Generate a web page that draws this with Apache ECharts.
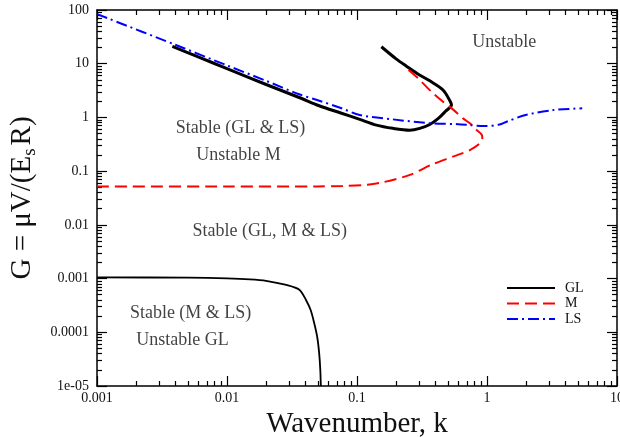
<!DOCTYPE html>
<html>
<head>
<meta charset="utf-8">
<script src="https://cdn.jsdelivr.net/npm/echarts@6/dist/echarts.min.js"></script>
<style>
  html, body { margin: 0; padding: 0; background: #fff; }
  #chart { width: 620px; height: 437px; }
</style>
</head>
<body>
<div id="chart"></div>
<script>
// tick labels
var xTickLabels = ['0.001', '0.01', '0.1', '1', '10'];
var xTickExp = [-3, -2, -1, 0, 1];
var yTickLabels = ['1e-05', '0.0001', '0.001', '0.01', '0.1', '1', '10', '100'];
var yTickExp = [-5, -4, -3, -2, -1, 0, 1, 2];
var minorMult = [2, 3, 4, 5, 6, 7, 8, 9];

// GL, upper branch (k, G)
var glUpperK = [0.0038, 0.006, 0.01, 0.02, 0.0359, 0.0512, 0.075, 0.105, 0.141, 0.189, 0.255, 0.304, 0.363, 0.42, 0.48, 0.533, 0.523, 0.459, 0.363, 0.29, 0.24, 0.2, 0.154];
var glUpperG = [21, 13.4, 8.1, 4.1, 2.35, 1.65, 1.21, 0.92, 0.72, 0.627, 0.58, 0.627, 0.74, 0.95, 1.3, 1.7, 1.96, 3.24, 4.8, 6.6, 9.0, 12.3, 20.7];
// GL, lower branch
var glLowerK = [0.001, 0.005, 0.01, 0.015, 0.02, 0.0286, 0.036, 0.0405, 0.044, 0.0468, 0.0495, 0.0512, 0.0522, 0.0527];
var glLowerG = [0.00105, 0.00104, 0.00101, 0.00097, 0.00091, 0.00076, 0.00062, 0.0004, 0.00026, 0.00015, 0.00008, 0.00004, 0.00002, 0.00001];
// M
var mK = [0.001, 0.01, 0.05, 0.078, 0.12, 0.158, 0.255, 0.383, 0.56, 0.738, 0.88, 0.92, 0.91, 0.82, 0.738, 0.655, 0.533, 0.459, 0.374, 0.295, 0.24];
var mG = [0.052, 0.052, 0.052, 0.053, 0.056, 0.062, 0.085, 0.135, 0.19, 0.247, 0.33, 0.42, 0.48, 0.6, 0.776, 0.96, 1.49, 1.96, 3.0, 5.35, 8.2];
// LS
var lsK = [0.001, 0.004, 0.01, 0.02, 0.0359, 0.0512, 0.075, 0.105, 0.189, 0.363, 0.6, 0.74, 0.95, 1.25, 1.41, 1.98, 3.23, 5.4];
var lsG = [84, 22.5, 9.3, 4.8, 2.7, 2.05, 1.5, 1.11, 0.92, 0.78, 0.75, 0.72, 0.69, 0.74, 0.83, 1.11, 1.37, 1.48];

// region annotations
var noteText = ['Unstable', 'Stable (GL & LS)', 'Unstable M', 'Stable (GL, M & LS)', 'Stable (M & LS)', 'Unstable GL'];
var noteK = [1.36, 0.0127, 0.01225, 0.0213, 0.00525, 0.00455];
var noteG = [24.6, 0.627, 0.2, 0.00776, 0.000225, 0.0000716];

function pairs(xs, ys) {
    return xs.map(function (x, i) { return [x, ys[i]]; });
}
function minorTicks(exps) {
    var out = [];
    for (var i = 0; i < exps.length - 1; i++) {
        minorMult.forEach(function (m) { out.push(exps[i] + Math.log10(m)); });
    }
    return out;
}
function labelFor(exps, labels) {
    return function (v) {
        var i = exps.indexOf(Math.round(Math.log10(v)));
        return i < 0 ? '' : labels[i];
    };
}

var serif = 'Liberation Serif';
var black = '#000';

function majorAxis(kind, pos, min, max, labels, exps, show) {
    return {
        type: 'log', logBase: 10, position: pos, min: min, max: max,
        axisLine: { show: true, onZero: false, lineStyle: { color: black, width: 1.5 } },
        axisTick: { show: true, inside: true, length: 10, lineStyle: { color: black, width: 1.2 } },
        axisLabel: {
            show: show, margin: kind === 'x' ? 5 : 8,
            fontFamily: serif, fontSize: 14, color: '#111',
            formatter: labelFor(exps, labels)
        },
        splitLine: { show: false }, minorTick: { show: false }
    };
}
function minorAxis(pos, exps) {
    return {
        type: 'value', position: pos, min: exps[0], max: exps[exps.length - 1],
        axisLine: { show: false, onZero: false },
        axisTick: { show: true, inside: true, length: 5, customValues: minorTicks(exps),
            lineStyle: { color: black, width: 1.2 } },
        axisLabel: { show: false },
        splitLine: { show: false }
    };
}

var xBottom = majorAxis('x', 'bottom', 0.001, 10, xTickLabels, xTickExp, true);
xBottom.name = 'Wavenumber, k';
xBottom.nameLocation = 'middle';
xBottom.nameGap = 20;
xBottom.nameTextStyle = { fontFamily: serif, fontSize: 29, color: '#111' };

var yLeft = majorAxis('y', 'left', 0.00001, 100, yTickLabels, yTickExp, true);
yLeft.name = 'G = \u03bcV/(E{s|s}R)';
yLeft.nameLocation = 'middle';
yLeft.nameGap = 49;
yLeft.nameTextStyle = {
    fontFamily: serif, fontSize: 29, color: '#111',
    rich: { s: { fontFamily: serif, fontSize: 19, color: '#111', padding: [16, 3, 0, 0] } }
};

var myChart = echarts.init(document.getElementById('chart'), null, { renderer: 'canvas' });

var option = {
    backgroundColor: '#fff',
    animation: false,
    grid: { left: 97, right: 3, top: 10, bottom: 51, outerBoundsMode: 'none' },
    legend: {
        data: ['GL', 'M', 'LS'],
        orient: 'vertical',
        left: 506, top: 281, padding: 0,
        itemWidth: 48, itemHeight: 14, itemGap: 1.5,
        itemStyle: { opacity: 0 },
        lineStyle: { width: 2 },
        textStyle: { fontFamily: serif, fontSize: 14, color: '#111', padding: [0, 0, 0, 5] }
    },
    xAxis: [
        xBottom,
        majorAxis('x', 'top', 0.001, 10, xTickLabels, xTickExp, false),
        minorAxis('bottom', xTickExp),
        minorAxis('top', xTickExp)
    ],
    yAxis: [
        yLeft,
        majorAxis('y', 'right', 0.00001, 100, yTickLabels, yTickExp, false),
        minorAxis('left', yTickExp),
        minorAxis('right', yTickExp)
    ],
    series: [
        {
            name: 'GL', type: 'line', data: pairs(glUpperK, glUpperG),
            symbol: 'none', smooth: 0.3, color: black,
            lineStyle: { color: black, width: 3 }
        },
        {
            name: 'GL', type: 'line', data: pairs(glLowerK, glLowerG),
            symbol: 'none', smooth: 0.3, color: black,
            lineStyle: { color: black, width: 1.8 }
        },
        {
            name: 'M', type: 'line', data: pairs(mK, mG),
            symbol: 'none', smooth: 0.3, color: '#ff0000',
            lineStyle: { color: '#ff0000', width: 2, type: [12, 6] }
        },
        {
            name: 'LS', type: 'line', data: pairs(lsK, lsG),
            symbol: 'none', smooth: 0.3, color: '#0000ff',
            lineStyle: { color: '#0000ff', width: 2, type: [11, 4, 2, 4] }
        },
        {
            name: 'notes', type: 'scatter', silent: true,
            symbolSize: 0, itemStyle: { color: 'transparent' },
            data: noteText.map(function (t, i) { return { name: t, value: [noteK[i], noteG[i]] }; }),
            label: {
                show: true, position: 'inside', formatter: '{b}',
                fontFamily: serif, fontSize: 18, color: '#111'
            }
        }
    ]
};

myChart.setOption(option);
</script>
</body>
</html>
